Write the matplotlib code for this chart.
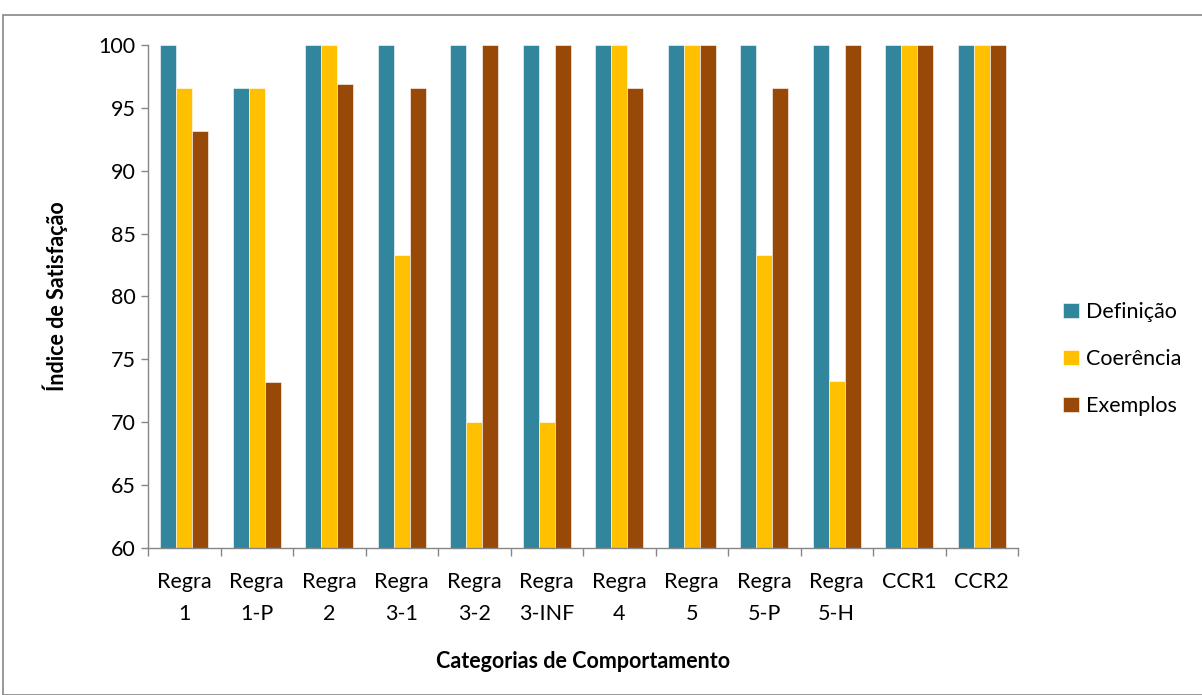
import numpy as np
import matplotlib.pyplot as plt
from matplotlib.patches import Rectangle

plt.rcParams['font.family'] = ['Lato', 'DejaVu Sans']

categorias = ['Regra\n1', 'Regra\n1-P', 'Regra\n2', 'Regra\n3-1', 'Regra\n3-2', 'Regra\n3-INF',
              'Regra\n4', 'Regra\n5', 'Regra\n5-P', 'Regra\n5-H', 'CCR1\n', 'CCR2\n']
definicao = [100, 96.6, 100, 100, 100, 100, 100, 100, 100, 100, 100, 100]
coerencia = [96.6, 96.6, 100, 83.3, 70, 70, 100, 100, 83.3, 73.3, 100, 100]
exemplos = [93.2, 73.2, 96.9, 96.6, 100, 100, 96.6, 100, 96.6, 100, 100, 100]

series = [('Definição', definicao, '#31859C'),
          ('Coerência', coerencia, '#FFC000'),
          ('Exemplos', exemplos, '#984807')]

fig = plt.figure(figsize=(12.02, 6.95), dpi=100)
ax = fig.add_axes([148 / 1202, 1 - 548 / 695, 870 / 1202, 503 / 695])

x = np.arange(len(categorias))
w = 0.222
for i, (nome, vals, cor) in enumerate(series):
    ax.bar(x + (i - 1) * w, np.array(vals) - 60, bottom=60, width=w, color=cor,
           edgecolor='white', linewidth=0.4, label=nome)

fs = 15.5
ax.set_xlim(-0.5, len(categorias) - 0.5)
ax.set_ylim(60, 100)
ax.set_yticks(range(60, 101, 5))
ax.tick_params(axis='y', labelsize=fs, length=5, width=1, color='#868686', pad=4)
ax.set_xticks(x)
ax.set_xticklabels(categorias, fontsize=fs, linespacing=1.75)
ax.tick_params(axis='x', length=0, pad=17)
ax.set_xticks(np.arange(-0.5, len(categorias)), minor=True)
ax.tick_params(axis='x', which='minor', length=6, width=1, color='#868686')

for s in ['top', 'right']:
    ax.spines[s].set_visible(False)
for s in ['left', 'bottom']:
    ax.spines[s].set_color('#868686')
    ax.spines[s].set_linewidth(1)

ax.set_ylabel('Índice de Satisfação', fontsize=fs, fontweight='bold', labelpad=22)
ax.set_xlabel('Categorias de Comportamento', fontsize=fs, fontweight='bold', labelpad=20)

leg = ax.legend(loc='center left', bbox_to_anchor=(1.03, 0.375), frameon=False, fontsize=fs,
                handlelength=0.7, handleheight=0.7, handletextpad=0.35, labelspacing=1.25)

fig.patches.append(Rectangle((3 / 1202, 0), 1.0, 1 - 15 / 695, transform=fig.transFigure,
                             fill=False, edgecolor='#868686', linewidth=1.2))

fig.savefig('out.png', dpi=100)
